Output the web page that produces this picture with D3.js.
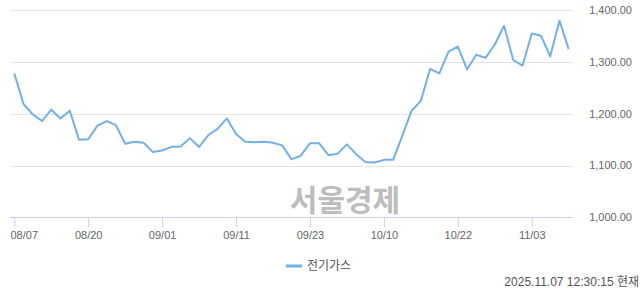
<!DOCTYPE html>
<html>
<head>
<meta charset="utf-8">
<script src="https://cdn.jsdelivr.net/npm/d3@7"></script>
<style>
  body { margin: 0; background: #fff; }
  svg { display: block; font-family: "Liberation Sans", Arial, "Noto Sans CJK KR", sans-serif; }
</style>
</head>
<body>
<div class="chart"></div>
<script>
// trading days shown on the chart
const dates = [
  '08/07','08/08','08/11','08/12','08/13','08/14','08/18','08/19','08/20','08/21','08/22','08/25','08/26','08/27','08/28','08/29',
  '09/01','09/02','09/03','09/04','09/05','09/08','09/09','09/10','09/11','09/12','09/15','09/16','09/17','09/18','09/19','09/22','09/23','09/24','09/25','09/26','09/29','09/30',
  '10/01','10/02','10/10','10/13','10/14','10/15','10/16','10/17','10/20','10/21','10/22','10/23','10/24','10/27','10/28','10/29','10/30','10/31',
  '11/03','11/04','11/05','11/06','11/07'
];
const values = [
  1278, 1219, 1199, 1186, 1208, 1191, 1206, 1150, 1151, 1177, 1186, 1178, 1142, 1146, 1144, 1126,
  1129, 1136, 1137, 1153, 1136, 1159, 1171, 1191, 1161, 1146, 1145, 1146, 1144, 1139, 1112, 1119, 1143, 1143, 1120, 1123, 1141, 1122,
  1107, 1106, 1111, 1111, 1158, 1206, 1225, 1287, 1278, 1320, 1330, 1286, 1314, 1308, 1334, 1370, 1304, 1293,
  1355, 1351, 1311, 1380, 1325
];
const xTicks = ['08/07','08/20','09/01','09/11','09/23','10/10','10/22','11/03'];
const yTicks = [1000, 1100, 1200, 1300, 1400];
const seriesName = '전기가스';
const stamp = '2025.11.07 12:30:15 현재';

const width = 640, height = 294;
const plotLeft = 10, plotRight = 573;

const svg = d3.select('.chart')
    .append('svg')
    .attr('width', width)
    .attr('height', height);

const x = d3.scalePoint()
    .domain(dates)
    .range([14.3, 568.7]);

const y = d3.scaleLinear()
    .domain([1000, 1400])
    .range([217.3, 10.3]);

// gridlines
svg.append('g')
    .selectAll('line')
    .data(yTicks.slice(1))
    .enter()
    .append('line')
    .attr('x1', plotLeft)
    .attr('x2', plotRight)
    .attr('y1', d => Math.round(y(d)) + 0.5)
    .attr('y2', d => Math.round(y(d)) + 0.5)
    .attr('stroke', '#e3e3e3')
    .attr('stroke-width', 1);

// y labels on the right
svg.append('g')
    .selectAll('text')
    .data(yTicks)
    .enter()
    .append('text')
    .attr('x', 632)
    .attr('y', d => y(d))
    .attr('dy', '0.35em')
    .attr('text-anchor', 'end')
    .attr('font-size', 11)
    .attr('fill', '#666')
    .text(d => d3.format(',.2f')(d));

// watermark
svg.append('text')
    .attr('x', 345)
    .attr('y', 211)
    .attr('text-anchor', 'middle')
    .attr('font-family', '"Noto Sans CJK KR", sans-serif')
    .attr('font-weight', 'bold')
    .attr('font-size', 30)
    .attr('fill', '#bdbdbd')
    .text('서울경제');

// x axis
const xAxis = d3.axisBottom(x)
    .tickValues(xTicks)
    .tickSize(10)
    .tickPadding(4);

const gx = svg.append('g')
    .attr('transform', `translate(0,${Math.round(y(1000)) + 0.5})`)
    .call(xAxis);

gx.select('.domain')
    .attr('d', `M${plotLeft},0H${plotRight}`)
    .attr('stroke', '#c8d3e6');
gx.selectAll('.tick line').attr('stroke', '#c8d3e6');
gx.selectAll('.tick text')
    .attr('font-size', 11)
    .attr('font-family', '"Liberation Sans", Arial, sans-serif')
    .attr('fill', '#666');
// first label sits flush with the plot's left edge
gx.selectAll('.tick text')
    .filter(d => d === xTicks[0])
    .attr('text-anchor', 'start')
    .attr('x', plotLeft - x(xTicks[0]));

// the series line
const line = d3.line()
    .x((d, i) => x(dates[i]))
    .y(d => y(d));

svg.append('path')
    .datum(values)
    .attr('fill', 'none')
    .attr('stroke', '#74b0e8')
    .attr('stroke-width', 2)
    .attr('stroke-linejoin', 'round')
    .attr('d', line);

// legend
svg.append('line')
    .attr('x1', 286)
    .attr('x2', 302)
    .attr('y1', 266)
    .attr('y2', 266)
    .attr('stroke', '#74b0e8')
    .attr('stroke-width', 3);

svg.append('text')
    .attr('x', 307)
    .attr('y', 266)
    .attr('dy', '0.35em')
    .attr('font-size', 12)
    .attr('fill', '#555')
    .text(seriesName);

// timestamp
svg.append('text')
    .attr('x', 639)
    .attr('y', 282)
    .attr('dy', '0.35em')
    .attr('text-anchor', 'end')
    .attr('font-size', 12)
    .attr('fill', '#555')
    .text(stamp);
</script>
</body>
</html>
